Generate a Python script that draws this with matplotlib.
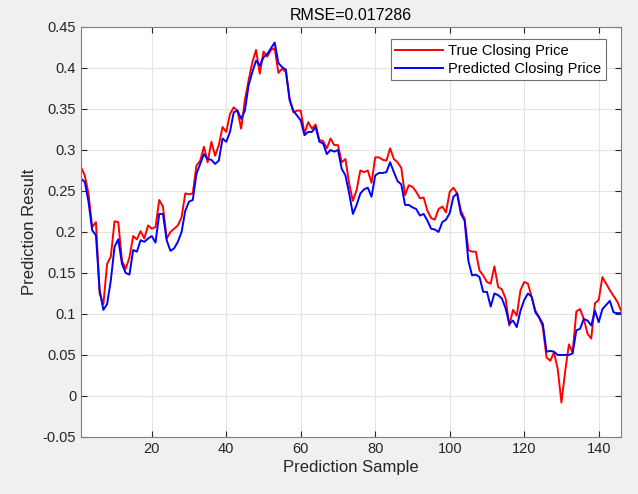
import numpy as np
import matplotlib.pyplot as plt

# values, samples 1..146
trueClose = [
    0.279, 0.269, 0.247, 0.206, 0.212, 0.125, 0.112, 0.161, 0.170, 0.213,
    0.212, 0.165, 0.155, 0.169, 0.195, 0.191, 0.201, 0.192, 0.208, 0.204,
    0.206, 0.239, 0.231, 0.192, 0.200, 0.204, 0.208, 0.218, 0.247, 0.246,
    0.247, 0.281, 0.287, 0.304, 0.285, 0.310, 0.293, 0.306, 0.328, 0.322,
    0.344, 0.352, 0.348, 0.326, 0.361, 0.385, 0.407, 0.422, 0.393, 0.420,
    0.414, 0.422, 0.424, 0.394, 0.399, 0.395, 0.363, 0.346, 0.348, 0.348,
    0.320, 0.334, 0.326, 0.331, 0.312, 0.311, 0.302, 0.314, 0.306, 0.306,
    0.285, 0.289, 0.259, 0.238, 0.251, 0.275, 0.273, 0.275, 0.260, 0.291,
    0.291, 0.288, 0.287, 0.302, 0.289, 0.285, 0.278, 0.245, 0.257, 0.255,
    0.249, 0.241, 0.242, 0.226, 0.217, 0.215, 0.228, 0.231, 0.224, 0.249,
    0.254, 0.247, 0.226, 0.216, 0.178, 0.176, 0.176, 0.153, 0.147, 0.139,
    0.137, 0.158, 0.133, 0.130, 0.119, 0.086, 0.105, 0.098, 0.129, 0.139,
    0.137, 0.121, 0.104, 0.096, 0.084, 0.047, 0.043, 0.053, 0.033, -0.008,
    0.030, 0.063, 0.053, 0.103, 0.106, 0.094, 0.076, 0.070, 0.113, 0.117,
    0.145, 0.137, 0.129, 0.122, 0.115, 0.104,
]
predClose = [
    0.265, 0.261, 0.237, 0.202, 0.196, 0.129, 0.105, 0.112, 0.141, 0.182,
    0.191, 0.161, 0.150, 0.148, 0.178, 0.176, 0.190, 0.188, 0.192, 0.195,
    0.187, 0.222, 0.222, 0.190, 0.177, 0.180, 0.188, 0.200, 0.226, 0.237,
    0.239, 0.271, 0.283, 0.295, 0.289, 0.288, 0.283, 0.287, 0.314, 0.310,
    0.322, 0.346, 0.348, 0.338, 0.348, 0.379, 0.395, 0.409, 0.403, 0.413,
    0.417, 0.424, 0.431, 0.406, 0.401, 0.398, 0.361, 0.348, 0.342, 0.336,
    0.318, 0.322, 0.322, 0.328, 0.310, 0.308, 0.295, 0.300, 0.298, 0.300,
    0.277, 0.269, 0.247, 0.222, 0.233, 0.247, 0.252, 0.254, 0.243, 0.269,
    0.272, 0.272, 0.273, 0.285, 0.273, 0.262, 0.258, 0.233, 0.233, 0.230,
    0.228, 0.220, 0.222, 0.214, 0.204, 0.203, 0.200, 0.212, 0.215, 0.223,
    0.243, 0.247, 0.222, 0.214, 0.165, 0.147, 0.148, 0.145, 0.127, 0.127,
    0.109, 0.125, 0.123, 0.119, 0.107, 0.088, 0.092, 0.084, 0.104, 0.117,
    0.125, 0.121, 0.102, 0.096, 0.088, 0.054, 0.055, 0.054, 0.050, 0.050,
    0.050, 0.050, 0.052, 0.080, 0.082, 0.094, 0.092, 0.086, 0.104, 0.090,
    0.106, 0.111, 0.116, 0.102, 0.101, 0.101,
]
rmseText = 'RMSE=0.017286'

plt.rcParams['font.family'] = ['Liberation Sans', 'DejaVu Sans']

sample = np.arange(1, len(trueClose) + 1)

fig = plt.figure(figsize = (6.38, 4.94), dpi = 100, facecolor = '#f0f0f0')
ax = fig.add_axes([0.127, 0.1154, 0.8464, 0.830])
ax.plot(sample, trueClose, color = 'red', lw = 1.4, label = 'True Closing Price')
ax.plot(sample, predClose, color = 'blue', lw = 1.4, label = 'Predicted Closing Price')

ax.set_xlim(1, len(trueClose))
ax.set_ylim(-0.05, 0.45)
ax.set_xticks(np.arange(20, 141, 20))
ax.set_yticks(np.arange(-0.05, 0.451, 0.05))
ax.set_yticklabels(['-0.05', '0', '0.05', '0.1', '0.15', '0.2', '0.25', '0.3', '0.35', '0.4', '0.45'])
ax.grid(True, color = '#e3e3e3', lw = 0.8)
ax.set_axisbelow(True)
ax.tick_params(direction = 'in', top = True, right = True, labelsize = 10.5,
               colors = '#262626', length = 4, width = 0.8)
for spine in ax.spines.values():
    spine.set_color('#808080')
    spine.set_linewidth(0.8)

ax.set_xlabel('Prediction Sample', fontsize = 12, color = '#262626', labelpad = 3)
ax.set_ylabel('Prediction Result', fontsize = 12, color = '#262626', labelpad = 4)
ax.set_title(rmseText, fontsize = 11.5, color = 'black', pad = 5)

leg = ax.legend(loc = 'upper right', bbox_to_anchor = (0.9717, 0.970), borderaxespad = 0,
                fontsize = 10.5, fancybox = False, framealpha = 1, edgecolor = '#6e6e6e',
                handlelength = 3.3, handletextpad = 0.35, labelspacing = 0.3, borderpad = 0.3)
leg.get_frame().set_linewidth(0.8)

plt.savefig('out.png', dpi = 100, facecolor = fig.get_facecolor())
